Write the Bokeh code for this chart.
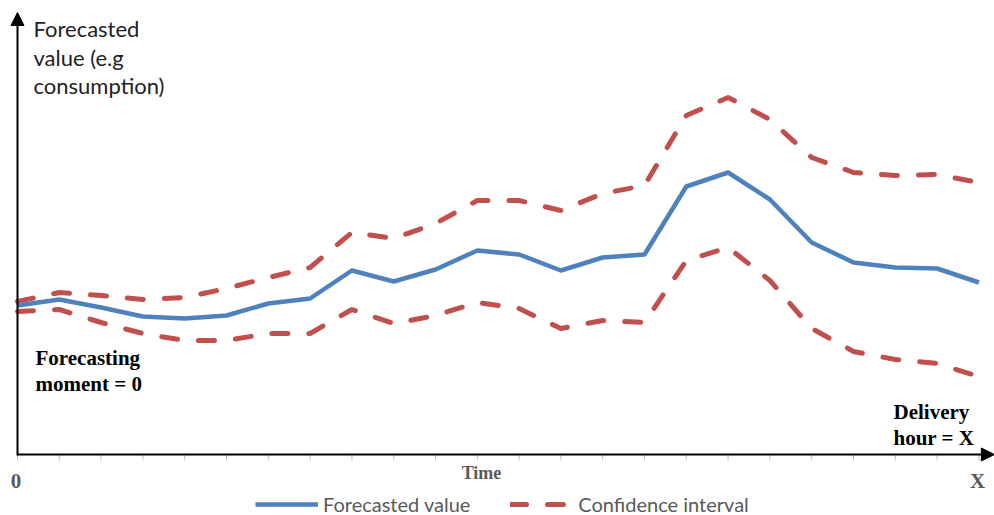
from bokeh.plotting import figure
from bokeh.models import Range1d, Label, Arrow, NormalHead, Legend, LegendItem
from bokeh.embed import file_html
from bokeh.resources import INLINE

# ---- data ----
hours = list(range(24))
forecast = [37.25, 38.75, 36.75, 34.5, 34.0, 34.75, 37.75, 39.0, 46.0, 43.25, 46.25, 51.0,
            50.0, 46.0, 49.25, 50.0, 67.0, 70.5, 63.75, 53.0, 48.0, 46.75, 46.5, 43.0]
upper = [38.25, 40.5, 39.75, 38.75, 39.25, 41.5, 44.25, 46.75, 55.5, 54.0, 57.75, 63.5,
         63.5, 61.0, 65.25, 67.25, 84.75, 89.25, 83.75, 74.25, 70.5, 69.75, 70.0, 68.0]
lower = [35.75, 36.25, 33.0, 30.25, 28.5, 28.5, 30.25, 30.25, 36.25, 32.75, 34.75, 38.0,
         36.5, 31.5, 33.5, 33.0, 48.5, 51.75, 43.5, 31.5, 25.75, 23.75, 22.75, 19.5]

BLUE = "#4F81BD"
RED = "#C0504D"

p = figure(width=994, height=515, output_backend="svg", toolbar_location=None,
           x_range=Range1d(-0.4067, 23.373), y_range=Range1d(-15.25, 113.5),
           x_axis_location=None, y_axis_location=None, min_border=0)
p.grid.visible = False
p.outline_line_color = None

# small tick marks under the time axis
p.segment(x0=hours, y0=[0] * len(hours), x1=hours, y1=[-1.5] * len(hours),
          line_color="#BFBFBF", line_width=1)

r_u = p.line(hours, upper, line_color=RED, line_width=5, line_dash="16 21", line_cap="round")
r_l = p.line(hours, lower, line_color=RED, line_width=5, line_dash="16 21", line_cap="round")
r_f = p.line(hours, forecast, line_color=BLUE, line_width=4.5, line_join="round")

# axes drawn as arrows
p.add_layout(Arrow(x_start=hours[0], y_start=-0.25, x_end=hours[0], y_end=110.5, line_width=2,
                   end=NormalHead(size=13, fill_color="black", line_color="black")))
p.add_layout(Arrow(x_start=hours[0], y_start=0, x_end=hours[-1] + 0.37, y_end=0, line_width=2,
                   end=NormalHead(size=13, fill_color="black", line_color="black")))

p.add_layout(Label(x=33, y=500.5, x_units="screen", y_units="screen",
                   text="Forecasted\nvalue (e.g\nconsumption)", text_font="Lato",
                   text_font_size="22px", text_baseline="top", text_line_height=1.06,
                   text_color="#222222"))
p.add_layout(Label(x=35, y=169.5, x_units="screen", y_units="screen",
                   text="Forecasting\nmoment = 0", text_font="Liberation Serif",
                   text_font_style="bold", text_font_size="21px", text_baseline="top",
                   text_line_height=1.10, text_color="black"))
p.add_layout(Label(x=893, y=116, x_units="screen", y_units="screen",
                   text="Delivery\nhour = X", text_font="Liberation Serif",
                   text_font_style="bold", text_font_size="21px", text_baseline="top",
                   text_line_height=1.10, text_color="black"))
p.add_layout(Label(x=15.5, y=35, x_units="screen", y_units="screen", text="0",
                   text_font="Liberation Serif", text_font_style="bold", text_font_size="21px",
                   text_align="center", text_baseline="middle", text_color="#595959"))
p.add_layout(Label(x=977, y=35, x_units="screen", y_units="screen", text="X",
                   text_font="Liberation Serif", text_font_style="bold", text_font_size="21px",
                   text_align="center", text_baseline="middle", text_color="#595959"))
p.add_layout(Label(x=481, y=43, x_units="screen", y_units="screen", text="Time",
                   text_font="Liberation Serif", text_font_style="bold", text_font_size="18px",
                   text_align="center", text_baseline="middle", text_color="#595959"))

legend = Legend(items=[LegendItem(label="Forecasted value", renderers=[r_f]),
                       LegendItem(label="Confidence interval", renderers=[r_u])],
                location=(255, -1), orientation="horizontal", glyph_width=63, glyph_height=20,
                label_text_font="Lato", label_text_font_size="20px", label_text_color="#595959",
                spacing=40, padding=0, margin=0, border_line_color=None,
                background_fill_alpha=0, label_standoff=5)
p.add_layout(legend)

open("out.html", "w").write(file_html(p, INLINE))
